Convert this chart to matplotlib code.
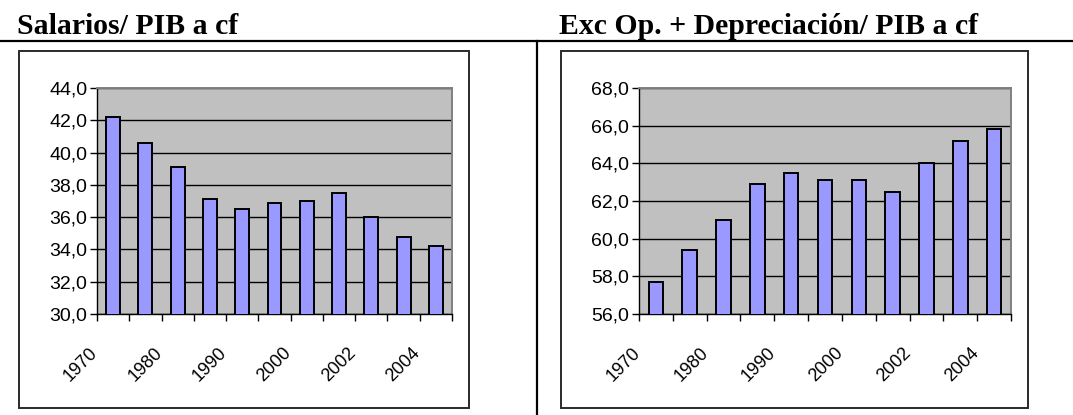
import matplotlib
matplotlib.use("Agg")
import matplotlib.pyplot as plt
import matplotlib.transforms as mtransforms
from matplotlib.patches import Rectangle
from matplotlib.lines import Line2D
from matplotlib.ticker import FixedLocator, FuncFormatter, MultipleLocator

# data
years = ["1970", "1975", "1980", "1985", "1990", "1995",
         "2000", "2001", "2002", "2003", "2004"]
salarios = [42.2, 40.6, 39.1, 37.1, 36.5, 36.9, 37.0, 37.5, 36.0, 34.8, 34.2]
excedente = [57.7, 59.4, 61.0, 62.9, 63.5, 63.1, 63.1, 62.5, 64.0, 65.2, 65.8]
titles = ["Salarios/ PIB a cf", "Exc Op. + Depreciación/ PIB a cf"]
ylims = [(30, 44), (56, 68)]

W, H = 1073, 415
fig = plt.figure(figsize=(W / 100, H / 100), dpi=100)


def px_rect(x0, y0, x1, y1):
    return [x0 / W, 1 - y1 / H, (x1 - x0) / W, (y1 - y0) / H]


def comma_fmt(v, pos):
    return f"{v:.1f}".replace(".", ",")


# page rules: line under the titles and divider between halves
fig.add_artist(Line2D([0, 1], [1 - 41 / H] * 2, color="black", lw=1.6))
fig.add_artist(Line2D([537 / W] * 2, [0, 1 - 41 / H], color="black", lw=1.6))

panels = [
    dict(title_x=17, box=(19, 51, 469, 408), plot=(97, 88, 452, 314)),
    dict(title_x=559, box=(561, 51, 1028, 408), plot=(639, 88, 1011, 314)),
]
series = [salarios, excedente]

for p, vals, title, ylim in zip(panels, series, titles, ylims):
    fig.text(p["title_x"] / W, 1 - 34 / H, title, family="Liberation Serif",
             weight="bold", fontsize=21.4, va="baseline", ha="left")

    bx0, by0, bx1, by1 = p["box"]
    fig.add_artist(Rectangle((bx0 / W, 1 - by1 / H), (bx1 - bx0) / W,
                             (by1 - by0) / H, transform=fig.transFigure,
                             fill=False, edgecolor="#2a2a2a", lw=1.4))

    ax = fig.add_axes(px_rect(*p["plot"]))
    ax.set_facecolor("#c0c0c0")
    x = range(len(years))
    ax.bar(x, vals, width=0.43, color="#9999ff", edgecolor="black",
           linewidth=1.4, zorder=3)
    ax.set_xlim(-0.5, len(years) - 0.5)
    ax.set_ylim(*ylim)
    ax.yaxis.set_major_locator(MultipleLocator(2))
    ax.yaxis.set_major_formatter(FuncFormatter(comma_fmt))
    ax.grid(axis="y", color="black", lw=1, zorder=1)
    ax.set_axisbelow(True)

    ax.xaxis.set_major_locator(FixedLocator(list(x)[::2]))
    ax.set_xticklabels(years[::2])
    ax.xaxis.set_minor_locator(FixedLocator([i - 0.5 for i in range(len(years) + 1)]))
    ax.tick_params(axis="x", which="major", length=0, pad=22, labelsize=13,
                   rotation=45)
    ax.tick_params(axis="x", which="minor", length=5, width=1, direction="out")
    ax.tick_params(axis="y", length=5, width=1, direction="out", labelsize=14,
                   pad=2)
    offset = mtransforms.ScaledTranslation(-12 / 100, 0, fig.dpi_scale_trans)
    for lab in ax.get_xticklabels():
        lab.set_ha("right")
        lab.set_va("top")
        lab.set_family("Liberation Sans")
        lab.set_transform(lab.get_transform() + offset)
    for lab in ax.get_yticklabels():
        lab.set_family("Liberation Sans")

    for side in ("top", "right"):
        ax.spines[side].set_color("#808080")
        ax.spines[side].set_linewidth(1.4)
    for side in ("left", "bottom"):
        ax.spines[side].set_color("black")
        ax.spines[side].set_linewidth(1)

fig.savefig("out.png", dpi=100)
